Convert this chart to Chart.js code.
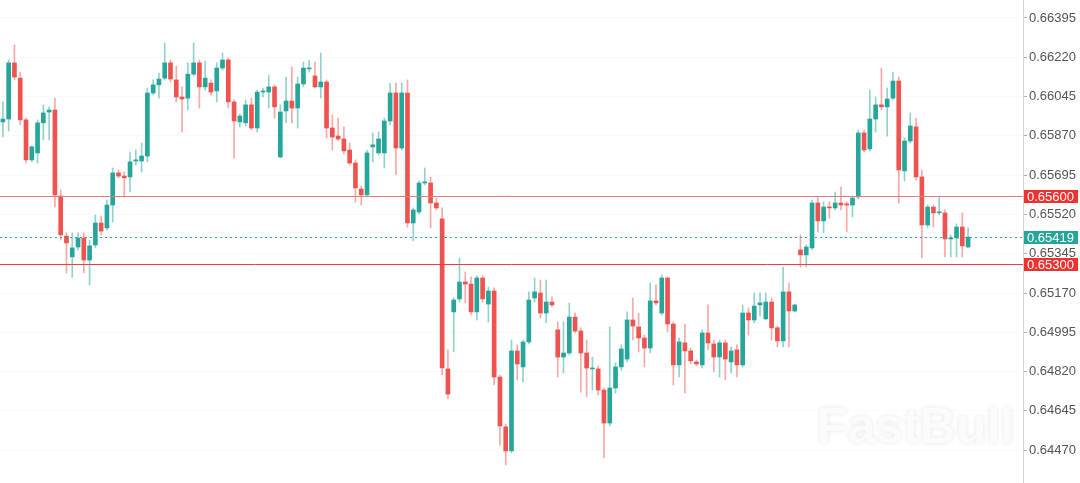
<!DOCTYPE html>
<html>
<head>
<meta charset="utf-8">
<script src="https://cdn.jsdelivr.net/npm/chart.js@4.4.1/dist/chart.umd.min.js"></script>
<style>
  html, body { margin: 0; padding: 0; background: #fff; }
  #wrap { width: 1080px; height: 483px; }
</style>
</head>
<body>
<div id="wrap"><canvas id="chart"></canvas></div>
<script>
// ===============================
// Data
// ===============================
const open = [
  0.65932, 0.65945, 0.66195, 0.66127, 0.65941, 0.65763, 0.65794, 0.65928, 0.65976, 0.65985,
  0.65602, 0.65424, 0.65331, 0.65375, 0.65415, 0.65317, 0.65384, 0.65482, 0.65460, 0.65562,
  0.65705, 0.65691, 0.65687, 0.65758, 0.65758, 0.65780, 0.66061, 0.66097, 0.66127, 0.66195,
  0.66119, 0.66043, 0.66038, 0.66145, 0.66195, 0.66088, 0.66105, 0.66070, 0.66172, 0.66208,
  0.66021, 0.65932, 0.65928, 0.66008, 0.65905, 0.66065, 0.66065, 0.66088, 0.65776, 0.65981,
  0.66025, 0.65994, 0.66101, 0.66168, 0.66137, 0.66088, 0.66110, 0.65905, 0.65869, 0.65856,
  0.65807, 0.65749, 0.65633, 0.65607, 0.65821, 0.65794, 0.65794, 0.65936, 0.66061, 0.65816,
  0.66061, 0.65482, 0.65531, 0.65660, 0.65660, 0.65571, 0.65500, 0.64832, 0.65086, 0.65144,
  0.65219, 0.65210, 0.65086, 0.65237, 0.65121, 0.65179, 0.64796, 0.64574, 0.64467, 0.64912,
  0.64841, 0.64952, 0.65148, 0.65170, 0.65081, 0.65130, 0.65006, 0.64885, 0.64903, 0.65063,
  0.65001, 0.64903, 0.64832, 0.64832, 0.64738, 0.64591, 0.64747, 0.64841, 0.64876, 0.65050,
  0.65019, 0.64970, 0.64925, 0.65135, 0.65081, 0.65237, 0.65032, 0.64850, 0.64948, 0.64912,
  0.64863, 0.64850, 0.64992, 0.64943, 0.64885, 0.64948, 0.64863, 0.64917, 0.64850, 0.65081,
  0.65050, 0.65117, 0.65055, 0.65130, 0.65015, 0.64957, 0.65175, 0.65090, 0.65362, 0.65340,
  0.65371, 0.65571, 0.65491, 0.65553, 0.65549, 0.65571, 0.65567, 0.65562, 0.65598, 0.65883,
  0.65812, 0.65945, 0.66008, 0.65999, 0.66038, 0.66114, 0.65714, 0.65847, 0.65910, 0.65687,
  0.65473, 0.65553, 0.65527, 0.65527, 0.65411, 0.65415, 0.65464, 0.65375
];
const high = [
  0.66021, 0.66208, 0.66275, 0.66154, 0.65949, 0.65825, 0.65941, 0.66008, 0.65999, 0.66038,
  0.65629, 0.65438, 0.65438, 0.65438, 0.65438, 0.65406, 0.65518, 0.65513, 0.65584, 0.65727,
  0.65718, 0.65709, 0.65798, 0.65807, 0.65838, 0.66083, 0.66119, 0.66150, 0.66284, 0.66208,
  0.66181, 0.66088, 0.66195, 0.66284, 0.66208, 0.66203, 0.66119, 0.66195, 0.66239, 0.66217,
  0.66030, 0.65967, 0.66030, 0.66038, 0.66074, 0.66083, 0.66141, 0.66097, 0.66008, 0.66132,
  0.66177, 0.66132, 0.66199, 0.66208, 0.66199, 0.66239, 0.66119, 0.65963, 0.65949, 0.65910,
  0.65838, 0.65763, 0.65647, 0.65807, 0.65883, 0.65887, 0.65949, 0.66105, 0.66105, 0.66105,
  0.66119, 0.65549, 0.65669, 0.65727, 0.65687, 0.65593, 0.65549, 0.64917, 0.65148, 0.65326,
  0.65264, 0.65242, 0.65246, 0.65246, 0.65197, 0.65193, 0.64805, 0.64587, 0.64961, 0.64939,
  0.64961, 0.65175, 0.65237, 0.65228, 0.65228, 0.65153, 0.65041, 0.65041, 0.65126, 0.65081,
  0.65015, 0.64961, 0.64885, 0.64845, 0.64747, 0.65019, 0.64859, 0.64939, 0.65086, 0.65148,
  0.65081, 0.64983, 0.65215, 0.65206, 0.65251, 0.65242, 0.65041, 0.64970, 0.65032, 0.64925,
  0.64872, 0.65006, 0.65117, 0.64961, 0.64961, 0.64961, 0.64930, 0.64939, 0.65117, 0.65104,
  0.65170, 0.65170, 0.65170, 0.65148, 0.65023, 0.65286, 0.65215, 0.65121, 0.65429, 0.65384,
  0.65584, 0.65598, 0.65576, 0.65576, 0.65620, 0.65642, 0.65576, 0.65602, 0.65896, 0.65896,
  0.66074, 0.66043, 0.66172, 0.66083, 0.66154, 0.66132, 0.65861, 0.65972, 0.65949, 0.65718,
  0.65562, 0.65562, 0.65602, 0.65540, 0.65429, 0.65478, 0.65527, 0.65460
];
const low = [
  0.65865, 0.65892, 0.66119, 0.65919, 0.65749, 0.65754, 0.65749, 0.65852, 0.65852, 0.65553,
  0.65406, 0.65260, 0.65242, 0.65362, 0.65260, 0.65206, 0.65371, 0.65429, 0.65451, 0.65486,
  0.65683, 0.65598, 0.65620, 0.65740, 0.65709, 0.65754, 0.66052, 0.66038, 0.66119, 0.66110,
  0.66021, 0.65887, 0.65985, 0.66137, 0.65994, 0.66074, 0.66052, 0.66021, 0.66163, 0.65994,
  0.65771, 0.65910, 0.65914, 0.65896, 0.65887, 0.66043, 0.65994, 0.65949, 0.65771, 0.65928,
  0.65928, 0.65905, 0.66088, 0.66154, 0.66083, 0.66038, 0.65861, 0.65807, 0.65847, 0.65789,
  0.65740, 0.65575, 0.65562, 0.65598, 0.65754, 0.65785, 0.65727, 0.65919, 0.65696, 0.65807,
  0.65464, 0.65402, 0.65522, 0.65651, 0.65460, 0.65540, 0.64805, 0.64698, 0.64908, 0.65130,
  0.65126, 0.65072, 0.65050, 0.65130, 0.65041, 0.64761, 0.64493, 0.64404, 0.64458, 0.64783,
  0.64774, 0.64943, 0.65130, 0.65059, 0.65037, 0.65108, 0.64796, 0.64814, 0.64894, 0.64992,
  0.64729, 0.64707, 0.64738, 0.64716, 0.64436, 0.64578, 0.64725, 0.64827, 0.64863, 0.64961,
  0.64908, 0.64841, 0.64903, 0.65117, 0.65072, 0.64997, 0.64761, 0.64796, 0.64725, 0.64854,
  0.64845, 0.64836, 0.64917, 0.64819, 0.64796, 0.64783, 0.64814, 0.64796, 0.64841, 0.64983,
  0.65037, 0.65068, 0.65050, 0.64961, 0.64930, 0.64930, 0.64930, 0.65086, 0.65286, 0.65286,
  0.65362, 0.65442, 0.65438, 0.65504, 0.65540, 0.65540, 0.65442, 0.65509, 0.65589, 0.65798,
  0.65803, 0.65887, 0.65985, 0.65869, 0.66030, 0.65571, 0.65669, 0.65838, 0.65674, 0.65326,
  0.65460, 0.65464, 0.65518, 0.65331, 0.65331, 0.65331, 0.65331, 0.65371
];
const close = [
  0.65945, 0.66195, 0.66132, 0.65941, 0.65763, 0.65821, 0.65928, 0.65972, 0.65985, 0.65607,
  0.65429, 0.65393, 0.65371, 0.65415, 0.65317, 0.65380, 0.65482, 0.65446, 0.65562, 0.65705,
  0.65691, 0.65683, 0.65754, 0.65763, 0.65780, 0.66061, 0.66097, 0.66123, 0.66195, 0.66123,
  0.66043, 0.66034, 0.66145, 0.66195, 0.66088, 0.66127, 0.66065, 0.66172, 0.66208, 0.66021,
  0.65936, 0.65958, 0.66008, 0.65905, 0.66065, 0.66070, 0.66088, 0.65999, 0.65976, 0.66025,
  0.65994, 0.66101, 0.66172, 0.66172, 0.66088, 0.66110, 0.65905, 0.65865, 0.65856, 0.65803,
  0.65749, 0.65638, 0.65607, 0.65794, 0.65830, 0.65856, 0.65936, 0.66061, 0.65816, 0.66061,
  0.65482, 0.65540, 0.65660, 0.65665, 0.65571, 0.65549, 0.64836, 0.64720, 0.65139, 0.65219,
  0.65210, 0.65086, 0.65237, 0.65144, 0.65179, 0.64796, 0.64578, 0.64467, 0.64912, 0.64854,
  0.64952, 0.65139, 0.65175, 0.65081, 0.65130, 0.65117, 0.64885, 0.64903, 0.65063, 0.65001,
  0.64903, 0.64836, 0.64836, 0.64738, 0.64591, 0.64747, 0.64841, 0.64921, 0.65050, 0.65023,
  0.64970, 0.64925, 0.65135, 0.65126, 0.65237, 0.65032, 0.64850, 0.64952, 0.64912, 0.64868,
  0.64854, 0.64992, 0.64948, 0.64885, 0.64948, 0.64876, 0.64912, 0.64850, 0.65081, 0.65050,
  0.65112, 0.65126, 0.65130, 0.65015, 0.64957, 0.65175, 0.65090, 0.65117, 0.65340, 0.65375,
  0.65571, 0.65491, 0.65553, 0.65549, 0.65571, 0.65562, 0.65562, 0.65593, 0.65883, 0.65807,
  0.65945, 0.66008, 0.65999, 0.66034, 0.66114, 0.65718, 0.65847, 0.65914, 0.65687, 0.65473,
  0.65553, 0.65527, 0.65531, 0.65411, 0.65415, 0.65464, 0.65380, 0.65419
];

const yTicks = [0.64470, 0.64645, 0.64820, 0.64995, 0.65170, 0.65345,
                0.65520, 0.65695, 0.65870, 0.66045, 0.66220, 0.66395];
const resistance = 0.65600;
const support = 0.65300;
const lastPrice = 0.65419;
const emptySlots = 9; // free space right of the last candle

const UP = "#26a69a";
const DOWN = "#ef5350";
const UP_WICK = "rgba(38,166,154,0.5)";
const DOWN_WICK = "rgba(239,83,80,0.5)";

const labels = [];
for (let i = 0; i < open.length + emptySlots; i++) labels.push(String(i + 1));

const isUp = open.map((o, i) => close[i] >= o);
const bodies = open.map((o, i) => [o, close[i]]);
const wicks = low.map((l, i) => [l, high[i]]);

// ===============================
// Levels + watermark plugin
// ===============================
const levelsPlugin = {
  id: "levels",
  beforeDatasetsDraw(chart) {
    const { ctx, chartArea } = chart;
    ctx.save();
    ctx.font = "bold 50px 'Liberation Sans', Arial, sans-serif";
    ctx.textBaseline = "alphabetic";
    ctx.shadowColor = "rgba(0,0,0,0.10)";
    ctx.shadowBlur = 5;
    ctx.fillStyle = "#fbfbfb";
    ctx.fillText("FastBull", chartArea.right - 206, 443);
    ctx.restore();
  },
  afterDatasetsDraw(chart) {
    const { ctx, chartArea } = chart;
    const y = chart.scales.y;
    ctx.save();
    ctx.lineWidth = 1;

    let py = Math.round(y.getPixelForValue(resistance)) + 0.5;
    ctx.strokeStyle = "#e77b7b";
    ctx.beginPath(); ctx.moveTo(chartArea.left, py); ctx.lineTo(chartArea.right, py); ctx.stroke();

    py = Math.round(y.getPixelForValue(support)) + 0.5;
    ctx.strokeStyle = "#e8403c";
    ctx.beginPath(); ctx.moveTo(chartArea.left, py); ctx.lineTo(chartArea.right, py); ctx.stroke();

    py = Math.round(y.getPixelForValue(lastPrice)) + 0.5;
    ctx.strokeStyle = "#2aa596";
    ctx.setLineDash([2, 3]);
    ctx.beginPath(); ctx.moveTo(chartArea.left, py); ctx.lineTo(chartArea.right, py); ctx.stroke();
    ctx.restore();
  },
  afterDraw(chart) {
    const { ctx, chartArea } = chart;
    const y = chart.scales.y;
    const tags = [
      [resistance, "#f0312f"],
      [lastPrice, "#26a69a"],
      [support, "#f0312f"]
    ];
    ctx.save();
    ctx.font = "13px 'Liberation Sans', Arial, sans-serif";
    ctx.textBaseline = "middle";
    tags.forEach(([v, col]) => {
      const py = Math.round(y.getPixelForValue(v));
      ctx.fillStyle = col;
      ctx.fillRect(chartArea.right + 1, py - 6, 54, 13);
      ctx.fillStyle = "#fff";
      ctx.fillText(v.toFixed(5), chartArea.right + 4, py + 1);
    });
    ctx.restore();
  }
};

// ===============================
// Chart
// ===============================
new Chart(document.getElementById("chart"), {
  type: "bar",
  data: {
    labels,
    datasets: [
      {
        label: "wick",
        data: wicks,
        backgroundColor: isUp.map(u => u ? UP_WICK : DOWN_WICK),
        barThickness: 1,
        grouped: false,
        order: 2
      },
      {
        label: "body",
        data: bodies,
        backgroundColor: isUp.map(u => u ? UP : DOWN),
        barThickness: 4,
        minBarLength: 1,
        grouped: false,
        order: 1
      }
    ]
  },
  options: {
    responsive: true,
    maintainAspectRatio: false,
    animation: false,
    layout: { padding: 0 },
    plugins: {
      legend: { display: false },
      tooltip: { enabled: false }
    },
    scales: {
      x: {
        display: false,
        offset: true
      },
      y: {
        position: "right",
        min: 0.64324,
        max: 0.66475,
        afterBuildTicks: axis => { axis.ticks = yTicks.map(v => ({ value: v })); },
        afterFit: axis => {
          axis.width = 57;
          axis.paddingTop = 0;
          axis.paddingBottom = 0;
        },
        grid: {
          color: "rgba(0,0,0,0.025)",
          tickColor: "#b0b0b0",
          tickLength: 4
        },
        border: { display: true, color: "#d4d4d4" },
        ticks: {
          padding: 2,
          color: "#555",
          font: { family: "'Liberation Sans', Arial, sans-serif", size: 13 },
          callback: v => Number(v).toFixed(5)
        }
      }
    }
  },
  plugins: [levelsPlugin]
});
</script>
</body>
</html>
